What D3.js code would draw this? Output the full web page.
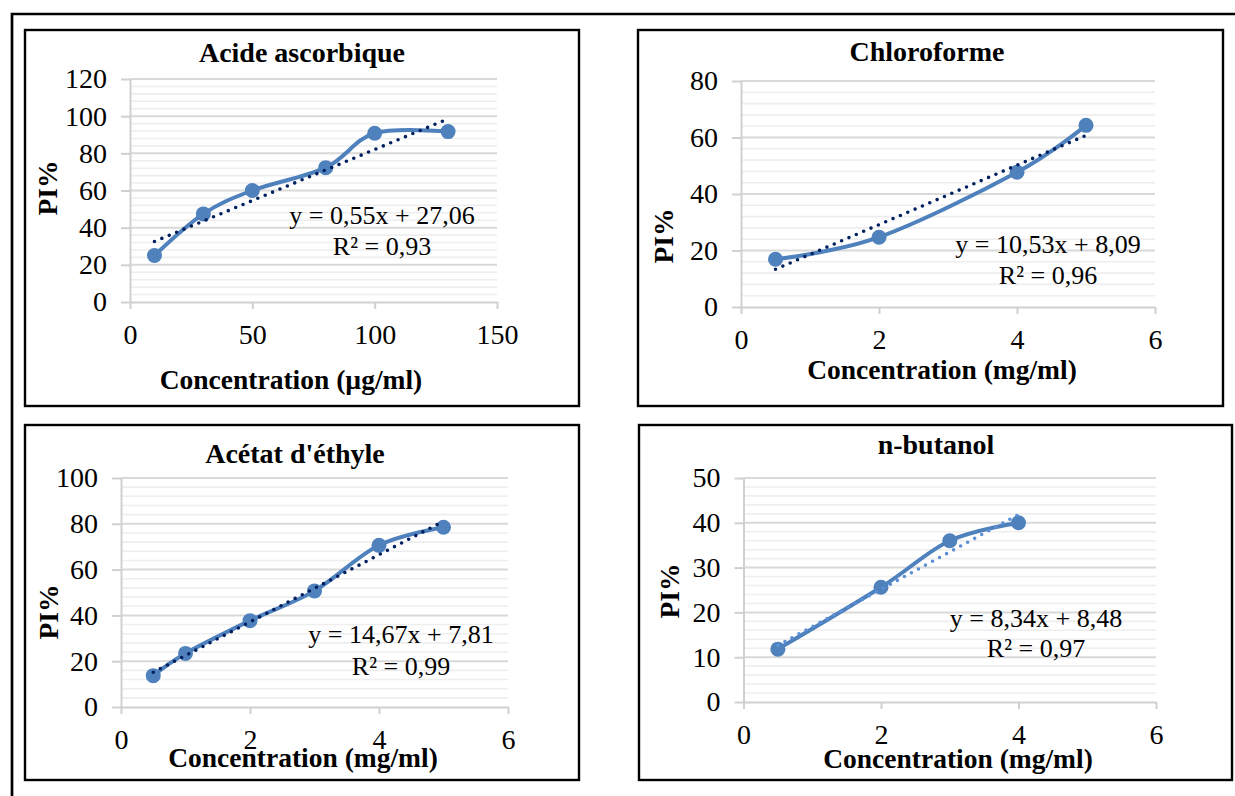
<!DOCTYPE html>
<html>
<head>
<meta charset="utf-8">
<script src="https://cdn.jsdelivr.net/npm/d3@7"></script>
<style>
  body { margin: 0; background: #fff; }
  svg { display: block; }
  text { font-family: "Liberation Serif", "Times New Roman", serif; fill: #000; }
</style>
</head>
<body>
<div id="graph_area"></div>
<script>
// Data
const titles = ['Acide ascorbique', 'Chloroforme', "Acétat d'éthyle", 'n-butanol'];
const xTitles = ['Concentration (µg/ml)', 'Concentration (mg/ml)', 'Concentration (mg/ml)', 'Concentration (mg/ml)'];

const acideX = [10, 30, 50, 80, 100, 130];
const acideY = [25, 47.4, 60, 72.3, 90.8, 91.7];
const chloroX = [0.5, 2, 4, 5];
const chloroY = [16.9, 24.7, 47.7, 64.3];
const acetatX = [0.5, 1, 2, 3, 4, 5];
const acetatY = [13.7, 23.4, 37.7, 50.7, 70.6, 78.5];
const butanolX = [0.5, 2, 3, 4];
const butanolY = [11.8, 25.6, 36, 40];

// trendline equations shown on the chart
const slopes = [0.55, 10.53, 14.67, 8.34];
const intercepts = [27.06, 8.09, 7.81, 8.48];
const r2 = [0.93, 0.96, 0.99, 0.97];

const xTicks = [[0, 50, 100, 150], [0, 2, 4, 6], [0, 2, 4, 6], [0, 2, 4, 6]];
const yTicks = [[0, 20, 40, 60, 80, 100, 120], [0, 20, 40, 60, 80], [0, 20, 40, 60, 80, 100], [0, 10, 20, 30, 40, 50]];
const yMinorStep = [4, 4, 4, 2];

const seriesX = [acideX, chloroX, acetatX, butanolX];
const seriesY = [acideY, chloroY, acetatY, butanolY];

// Layout of each panel (pixels)
const layout = [
  { box: [25, 30, 579, 406], px: [130, 497], py: [302, 79], title: [302, 62], yt: [57, 188], xt: [291, 389], eq: [382, 224, 255], trend: '#002060' },
  { box: [638, 30, 1223, 406], px: [741, 1155], py: [307, 81], title: [927, 61], yt: [673, 236], xt: [942, 379], eq: [1048, 253, 284], trend: '#002060' },
  { box: [25, 425, 579, 780], px: [121, 508], py: [707, 478], title: [295, 463], yt: [58, 612], xt: [303, 767], eq: [401, 643, 675], trend: '#002060' },
  { box: [639, 425, 1232, 780], px: [743.5, 1156], py: [702, 478], title: [936, 454], yt: [679, 591], xt: [958, 768], eq: [1036, 627, 657], trend: '#5b8fd6' },
];

const fmt = v => v.toFixed(2).replace('.', ',');
const blue = '#4f81bd';

const svg = d3.select('#graph_area')
  .append('svg')
    .attr('width', 1235)
    .attr('height', 796);

// Outer frame (only left and top edges are visible)
svg.append('path')
  .attr('d', 'M12,800V14H1240')
  .attr('fill', 'none')
  .attr('stroke', '#000')
  .attr('stroke-width', 2.7);

layout.forEach((L, i) => {
  const g = svg.append('g');

  // Panel box
  g.append('rect')
    .attr('x', L.box[0])
    .attr('y', L.box[1])
    .attr('width', L.box[2] - L.box[0])
    .attr('height', L.box[3] - L.box[1])
    .attr('fill', '#fff')
    .attr('stroke', '#000')
    .attr('stroke-width', 2.4);

  const xt = xTicks[i], yt = yTicks[i];
  const x = d3.scaleLinear().domain([xt[0], xt[xt.length - 1]]).range(L.px);
  const y = d3.scaleLinear().domain([yt[0], yt[yt.length - 1]]).range(L.py);

  // Minor gridlines
  const minor = d3.range(yt[0], yt[yt.length - 1] + 0.001, yMinorStep[i]).filter(v => !yt.includes(v));
  g.selectAll('.minor').data(minor).join('line')
    .attr('x1', L.px[0]).attr('x2', L.px[1])
    .attr('y1', d => y(d)).attr('y2', d => y(d))
    .attr('stroke', '#eeeeee')
    .attr('stroke-width', 1.6);

  // Major gridlines
  g.selectAll('.major').data(yt.slice(1)).join('line')
    .attr('x1', L.px[0]).attr('x2', L.px[1])
    .attr('y1', d => y(d)).attr('y2', d => y(d))
    .attr('stroke', '#d9d9d9')
    .attr('stroke-width', 2);

  // Y axis
  const ya = g.append('g')
    .attr('transform', `translate(${L.px[0]},0)`)
    .call(d3.axisLeft(y).tickValues(yt).tickFormat(d3.format('d'))
      .tickSize(9).tickSizeOuter(0).tickPadding(14));
  // X axis
  const xa = g.append('g')
    .attr('transform', `translate(0,${L.py[0]})`)
    .call(d3.axisBottom(x).tickValues(xt).tickFormat(d3.format('d'))
      .tickSize(7).tickSizeOuter(0).tickPadding(15));

  [ya, xa].forEach(a => {
    a.selectAll('path, line').attr('stroke', '#d0d0d0').attr('stroke-width', 2);
    a.selectAll('text')
      .style('font-family', '"Liberation Serif", "Times New Roman", serif')
      .style('font-size', '28px')
      .attr('fill', '#000');
  });

  // Series (smoothed line + markers)
  const pts = seriesX[i].map((v, k) => [v, seriesY[i][k]]);
  g.append('path')
    .datum(pts)
    .attr('fill', 'none')
    .attr('stroke', blue)
    .attr('stroke-width', 4)
    .attr('d', d3.line()
      .x(d => x(d[0]))
      .y(d => y(d[1]))
      .curve(d3.curveCatmullRom.alpha(0)));

  g.selectAll('.pt').data(pts).join('circle')
    .attr('cx', d => x(d[0]))
    .attr('cy', d => y(d[1]))
    .attr('r', 7.5)
    .attr('fill', blue);

  // Linear trendline (dotted)
  const xr = d3.extent(seriesX[i]);
  g.append('path')
    .datum(xr.map(v => [v, slopes[i] * v + intercepts[i]]))
    .attr('fill', 'none')
    .attr('stroke', L.trend)
    .attr('stroke-width', 3.6)
    .attr('stroke-linecap', 'round')
    .attr('stroke-dasharray', '0 8')
    .attr('d', d3.line().x(d => x(d[0])).y(d => y(d[1])));

  // Equation
  g.append('text')
    .attr('x', L.eq[0]).attr('y', L.eq[1])
    .attr('text-anchor', 'middle')
    .style('font-size', '26px')
    .text(`y = ${fmt(slopes[i])}x + ${fmt(intercepts[i])}`);
  g.append('text')
    .attr('x', L.eq[0]).attr('y', L.eq[2])
    .attr('text-anchor', 'middle')
    .style('font-size', '26px')
    .text(`R² = ${fmt(r2[i])}`);

  // Titles
  g.append('text')
    .attr('x', L.title[0]).attr('y', L.title[1])
    .attr('text-anchor', 'middle')
    .style('font-size', '28px')
    .style('font-weight', 'bold')
    .text(titles[i]);

  g.append('text')
    .attr('x', L.xt[0]).attr('y', L.xt[1])
    .attr('text-anchor', 'middle')
    .style('font-size', '27.5px')
    .style('font-weight', 'bold')
    .text(xTitles[i]);

  g.append('text')
    .attr('transform', `translate(${L.yt[0]},${L.yt[1]}) rotate(-90)`)
    .attr('text-anchor', 'middle')
    .style('font-size', '27.5px')
    .style('font-weight', 'bold')
    .text('PI%');
});
</script>
</body>
</html>
